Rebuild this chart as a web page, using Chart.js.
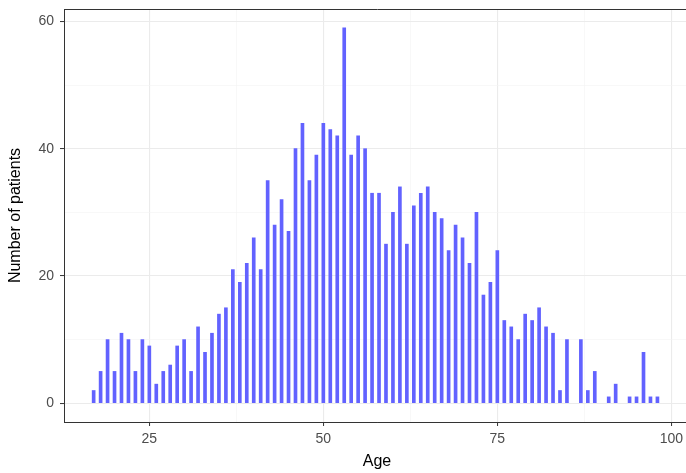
<!DOCTYPE html>
<html>
<head>
<meta charset="utf-8">
<script src="https://cdn.jsdelivr.net/npm/chart.js@4.4.1/dist/chart.umd.min.js"></script>
<style>
  html, body { margin: 0; padding: 0; background: #fff; overflow: hidden; }
  #wrap { width: 690px; height: 473px; }
</style>
</head>
<body>
<div id="wrap"><canvas id="chart"></canvas></div>
<script>
// ages 17..98, number of patients per age
const ages = [17,18,19,20,21,22,23,24,25,26,27,28,29,30,31,32,33,34,35,36,37,38,39,40,41,42,43,44,45,46,47,48,49,50,
  51,52,53,54,55,56,57,58,59,60,61,62,63,64,65,66,67,68,69,70,71,72,73,74,75,76,77,78,79,80,81,82,83,84,85,86,87,88,89,90,
  91,92,93,94,95,96,97,98];
const patients = [2,5,10,5,11,10,5,10,9,3,5,6,9,10,5,12,8,11,14,15,21,19,22,26,21,35,28,32,27,40,44,35,39,44,
  43,42,59,39,42,40,33,33,25,30,34,25,31,33,34,30,29,24,28,26,22,30,17,19,24,13,12,10,14,13,15,12,11,2,10,0,10,2,5,0,
  1,3,0,1,1,8,1,1];

const xTicks = [25, 37.5, 50, 62.5, 75, 87.5, 100];
const yTicks = [0, 10, 20, 30, 40, 50, 60];
const xMajor = [25, 50, 75, 100];
const yMajor = [0, 20, 40, 60];

const ink = "#333333";
const tickFont = { family: "Liberation Sans, Arial, sans-serif", size: 14 };
const titleFont = { family: "Liberation Sans, Arial, sans-serif", size: 16 };

// ages with no patients have no bar
const points = ages.map((a, i) => ({ x: a, y: patients[i] })).filter(p => p.y > 0);

function gridColor(major) {
  return ctx => major.includes(ctx.tick && ctx.tick.value) ? "#EBEBEB" : "#F3F3F3";
}
function gridWidth(major) {
  return ctx => major.includes(ctx.tick && ctx.tick.value) ? 1.1 : 0.6;
}
function tickColor(major) {
  return ctx => major.includes(ctx.tick && ctx.tick.value) ? ink : "rgba(0,0,0,0)";
}

const topBorder = {
  id: "topBorder",
  afterDraw(chart) {
    const { ctx, chartArea } = chart;
    ctx.save();
    ctx.strokeStyle = ink;
    ctx.lineWidth = 1;
    ctx.beginPath();
    ctx.moveTo(chartArea.left, chartArea.top + 0.5);
    ctx.lineTo(chartArea.right + 2, chartArea.top + 0.5);
    ctx.stroke();
    ctx.restore();
  }
};

new Chart(document.getElementById("chart"), {
  type: "bar",
  data: {
    datasets: [{
      data: points,
      backgroundColor: "#6262FF",
      borderWidth: 0,
      barThickness: 3
    }]
  },
  options: {
    responsive: true,
    maintainAspectRatio: false,
    animation: false,
    layout: { padding: { top: 9, left: 0, right: 0, bottom: 0 } },
    plugins: { legend: { display: false }, tooltip: { enabled: false } },
    scales: {
      x: {
        type: "linear",
        min: 12.74,
        max: 102.68,
        offset: false,
        afterBuildTicks: s => { s.ticks = xTicks.map(v => ({ value: v })); },
        afterFit: s => { s.height = 51; s.paddingLeft = 0; s.paddingRight = 0; },
        grid: { offset: false, color: gridColor(xMajor), lineWidth: gridWidth(xMajor),
                drawTicks: true, tickLength: 4, tickColor: tickColor(xMajor), tickWidth: 1 },
        border: { display: true, color: ink, width: 1 },
        ticks: {
          autoSkip: false, maxRotation: 0, padding: 5, color: "#4D4D4D", font: tickFont,
          callback: v => xMajor.includes(v) ? String(v) : ""
        },
        title: { display: true, text: "Age", color: "#000", font: titleFont, padding: { top: 0, bottom: 2 } }
      },
      y: {
        min: -2.95,
        max: 61.95,
        afterBuildTicks: s => { s.ticks = yTicks.map(v => ({ value: v })); },
        afterFit: s => { s.width = 64; s.paddingTop = 0; s.paddingBottom = 0; },
        grid: { color: gridColor(yMajor), lineWidth: gridWidth(yMajor),
                drawTicks: true, tickLength: 4, tickColor: tickColor(yMajor), tickWidth: 1 },
        border: { display: true, color: ink, width: 1 },
        ticks: {
          autoSkip: false, padding: 6, color: "#4D4D4D", font: tickFont,
          callback: v => yMajor.includes(v) ? String(v) : ""
        },
        title: { display: true, text: "Number of patients", color: "#000", font: titleFont, padding: { top: 6, bottom: 0 } }
      }
    }
  },
  plugins: [topBorder]
});
</script>
</body>
</html>
